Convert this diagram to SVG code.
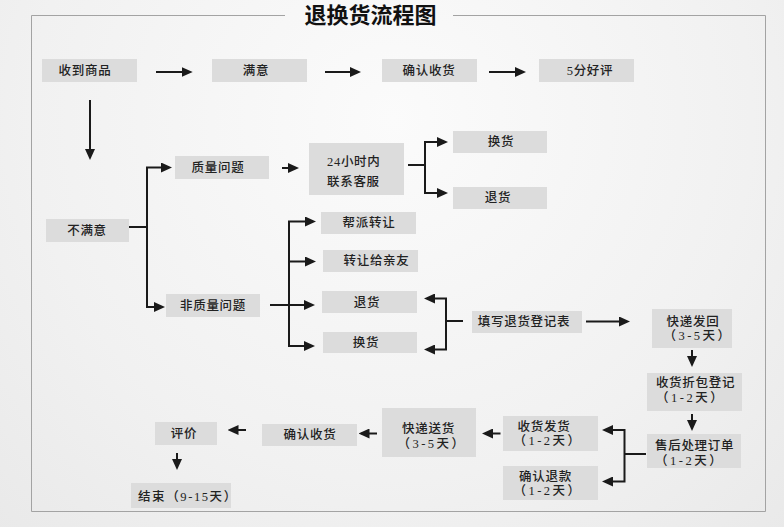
<svg xmlns="http://www.w3.org/2000/svg" width="784" height="527" viewBox="0 0 784 527">
<defs>
<radialGradient id="bg" cx="392" cy="120" r="600" gradientUnits="userSpaceOnUse">
<stop offset="0" stop-color="#fbfbfb"/>
<stop offset="0.6" stop-color="#f1f1f1"/>
<stop offset="1" stop-color="#e8e8e8"/>
</radialGradient>
<marker id="ah" viewBox="0 0 11 10" markerWidth="11" markerHeight="10" refX="8" refY="5" markerUnits="userSpaceOnUse" orient="auto">
<path d="M0,0 L11,5 L0,10 Z" fill="#1a1a1a"/>
</marker>
<style>
.bx{fill:#dcdcdc}
.t{font-family:"Liberation Serif","Noto Sans CJK SC",serif;font-size:12.5px;font-weight:500;fill:#222;letter-spacing:0.7px;dominant-baseline:central}
.m{text-anchor:middle}
.p{letter-spacing:2.5px}
.e{letter-spacing:1.6px}
.ttl{font-family:"Liberation Serif","Noto Sans CJK SC",serif;font-size:22px;font-weight:bold;fill:#111;text-anchor:middle;dominant-baseline:central}
.c{fill:none;stroke:#1a1a1a;stroke-width:2}
.a{marker-end:url(#ah)}
</style>
</defs>
<rect x="0" y="0" width="784" height="527" fill="url(#bg)"/>
<path d="M285,15.5 H31.5 V511.5 H765.5 V15.5 H453" fill="none" stroke="#a3a3a3" stroke-width="1"/>
<text class="ttl" x="370.5" y="15.5">退换货流程图</text>

<g id="n1"><rect class="bx" x="42" y="59" width="95" height="23"/><text class="t m" x="85" y="71">收到商品</text></g>
<g id="n2"><rect class="bx" x="212" y="59" width="95" height="23"/><text class="t m" x="256" y="71">满意</text></g>
<g id="n3"><rect class="bx" x="382" y="59" width="95" height="23"/><text class="t m" x="429" y="71">确认收货</text></g>
<g id="n4"><rect class="bx" x="539" y="59" width="95" height="23"/><text class="t m" x="590" y="71">5分好评</text></g>
<g id="n5"><rect class="bx" x="46" y="219" width="83" height="23"/><text class="t m" x="87" y="230.5">不满意</text></g>
<g id="n6"><rect class="bx" x="175" y="156" width="94" height="23"/><text class="t m" x="218" y="168">质量问题</text></g>
<g id="n7"><rect class="bx" x="166" y="294" width="94" height="23"/><text class="t m" x="213" y="306">非质量问题</text></g>
<g id="n8"><rect class="bx" x="309" y="143" width="95" height="52"/><text class="t" x="327" y="161.5">24小时内</text><text class="t" x="327" y="181.5">联系客服</text></g>
<g id="n9"><rect class="bx" x="453" y="131" width="94" height="22"/><text class="t m" x="501" y="142">换货</text></g>
<g id="n10"><rect class="bx" x="453" y="187" width="94" height="22"/><text class="t m" x="498" y="198">退货</text></g>
<g id="n11"><rect class="bx" x="321" y="212" width="95" height="22"/><text class="t m" x="369" y="223">帮派转让</text></g>
<g id="n12"><rect class="bx" x="323" y="250" width="95" height="22"/><text class="t m" x="376.5" y="261">转让给亲友</text></g>
<g id="n13"><rect class="bx" x="322" y="291" width="95" height="22"/><text class="t m" x="367" y="303">退货</text></g>
<g id="n14"><rect class="bx" x="323" y="332" width="94" height="21"/><text class="t m" x="366" y="343">换货</text></g>
<g id="n15"><rect class="bx" x="472" y="311" width="110" height="22"/><text class="t m" x="524" y="321.5">填写退货登记表</text></g>
<g id="n16"><rect class="bx" x="652" y="309" width="80" height="39"/><text class="t m" x="693" y="322">快递发回</text><text class="t m p" x="698" y="335.5">（3-5天）</text></g>
<g id="n17"><rect class="bx" x="647" y="373" width="95" height="38"/><text class="t m" x="695.5" y="383">收货折包登记</text><text class="t p" x="656" y="398">（1-2天）</text></g>
<g id="n18"><rect class="bx" x="647" y="434" width="94" height="34"/><text class="t" x="655" y="446">售后处理订单</text><text class="t p" x="655" y="461">（1-2天）</text></g>
<g id="n19"><rect class="bx" x="503" y="416" width="95" height="35"/><text class="t m" x="544" y="427">收货发货</text><text class="t m p" x="548" y="441">（1-2天）</text></g>
<g id="n20"><rect class="bx" x="503" y="466" width="95" height="34"/><text class="t m" x="545.5" y="477">确认退款</text><text class="t m p" x="548" y="491">（1-2天）</text></g>
<g id="n21"><rect class="bx" x="382" y="408" width="94" height="49"/><text class="t m" x="428.5" y="428.5">快递送货</text><text class="t m p" x="432" y="443.5">（3-5天）</text></g>
<g id="n22"><rect class="bx" x="262" y="424" width="95" height="22"/><text class="t m" x="310" y="435">确认收货</text></g>
<g id="n23"><rect class="bx" x="155" y="422" width="62" height="23"/><text class="t m" x="184" y="433.5">评价</text></g>
<g id="n24"><rect class="bx" x="131" y="483" width="100" height="25"/><text class="t e" x="138" y="496.5">结束（9-15天）</text></g>

<g id="connectors">
<path class="c a" d="M156,72 H189.7"/>
<path class="c a" d="M325,72 H358"/>
<path class="c a" d="M489,72 H523"/>
<path class="c a" d="M90,100 V157"/>
<path class="c" d="M129,227 H147"/>
<path class="c a" d="M147,227 V167.5 H169"/>
<path class="c a" d="M147,227 V307 H162"/>
<path class="c a" d="M282,168 H296"/>
<path class="c" d="M408,165 H425"/>
<path class="c a" d="M425,165 V142 H445"/>
<path class="c a" d="M425,165 V193 H445"/>
<path class="c a" d="M270,305 H312"/>
<path class="c a" d="M289,305 V221.5 H313"/>
<path class="c a" d="M289,261.5 H313"/>
<path class="c a" d="M289,305 V346 H312"/>
<path class="c" d="M463,321 H446"/>
<path class="c a" d="M446,321 V298.5 H427"/>
<path class="c a" d="M446,321 V349.5 H427"/>
<path class="c a" d="M586,321.5 H627"/>
<path class="c a" d="M692,350 V364"/>
<path class="c a" d="M692,414 V428"/>
<path class="c" d="M646,454 H624.5"/>
<path class="c a" d="M624.5,454 V430 H605"/>
<path class="c a" d="M624.5,454 V481.5 H605"/>
<path class="c a" d="M500.5,433.5 H485"/>
<path class="c a" d="M377,433.5 H361.5"/>
<path class="c a" d="M246,430 H230.5"/>
<path class="c a" d="M177,453 V467"/>
</g>
</svg>
